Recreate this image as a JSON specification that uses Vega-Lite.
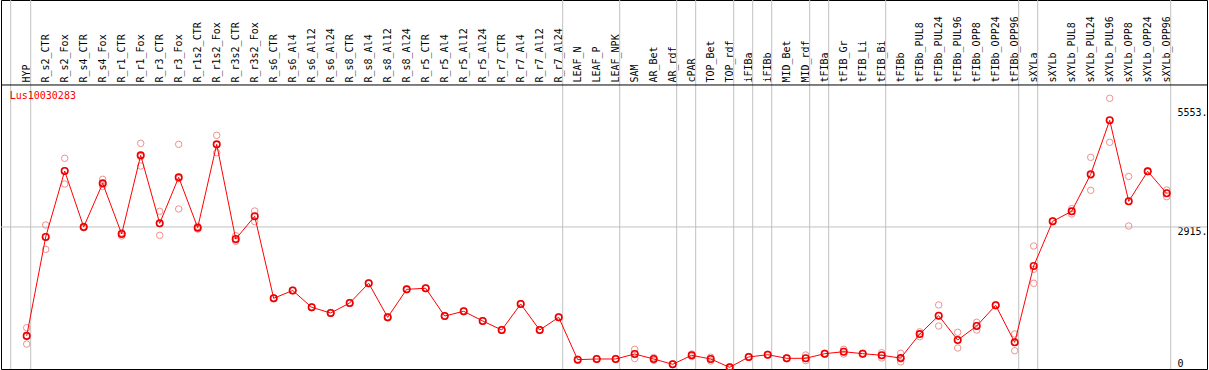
{
  "$schema": "https://vega.github.io/schema/vega-lite/v6.json",
  "width": 1206,
  "height": 369,
  "padding": {"left": 1, "top": 0, "right": 2, "bottom": 1},
  "autosize": {"type": "none"},
  "background": "white",
  "config": {
    "view": {"stroke": "black", "strokeWidth": 1},
    "font": "DejaVu Sans Mono",
    "axis": {"labelFont": "DejaVu Sans Mono", "labelFontSize": 10, "labelColor": "black", "ticks": false, "domain": false, "grid": false}
  },
  "datasets": {
    "expr": [
      {"sample": "HYP", "mean": 510, "r1": 690, "r2": 510, "r3": 330},
      {"sample": "R_s2_CTR", "mean": 2693, "r1": 2958, "r2": 2700, "r3": 2421},
      {"sample": "R_s2_Fox", "mean": 4150, "r1": 4430, "r2": 4157, "r3": 3863},
      {"sample": "R_s4_CTR", "mean": 2914, "r1": 2930, "r2": 2914, "r3": 2898},
      {"sample": "R_s4_Fox", "mean": 3878, "r1": 3967, "r2": 3856, "r3": 3810},
      {"sample": "R_r1_CTR", "mean": 2759, "r1": 2790, "r2": 2770, "r3": 2715},
      {"sample": "R_r1_Fox", "mean": 4496, "r1": 4761, "r2": 4466, "r3": 4260},
      {"sample": "R_r3_CTR", "mean": 2995, "r1": 3260, "r2": 2995, "r3": 2730},
      {"sample": "R_r3_Fox", "mean": 4010, "r1": 4739, "r2": 3980, "r3": 3311},
      {"sample": "R_r1s2_CTR", "mean": 2899, "r1": 2930, "r2": 2899, "r3": 2868},
      {"sample": "R_r1s2_Fox", "mean": 4739, "r1": 4938, "r2": 4725, "r3": 4554},
      {"sample": "R_r3s2_CTR", "mean": 2649, "r1": 2722, "r2": 2627, "r3": 2598},
      {"sample": "R_r3s2_Fox", "mean": 3150, "r1": 3267, "r2": 3150, "r3": 3031},
      {"sample": "R_s6_CTR", "mean": 1340, "r1": 1350, "r2": 1340, "r3": 1330},
      {"sample": "R_s6_Al4", "mean": 1512, "r1": 1520, "r2": 1512, "r3": 1504},
      {"sample": "R_s6_Al12", "mean": 1141, "r1": 1150, "r2": 1141, "r3": 1132},
      {"sample": "R_s6_Al24", "mean": 1015, "r1": 1025, "r2": 1015, "r3": 1005},
      {"sample": "R_s8_CTR", "mean": 1236, "r1": 1245, "r2": 1236, "r3": 1227},
      {"sample": "R_s8_Al4", "mean": 1671, "r1": 1680, "r2": 1671, "r3": 1662},
      {"sample": "R_s8_Al12", "mean": 920, "r1": 930, "r2": 920, "r3": 910},
      {"sample": "R_s8_Al24", "mean": 1538, "r1": 1546, "r2": 1538, "r3": 1530},
      {"sample": "R_r5_CTR", "mean": 1561, "r1": 1570, "r2": 1561, "r3": 1552},
      {"sample": "R_r5_Al4", "mean": 949, "r1": 958, "r2": 949, "r3": 940},
      {"sample": "R_r5_Al12", "mean": 1053, "r1": 1062, "r2": 1053, "r3": 1044},
      {"sample": "R_r5_Al24", "mean": 839, "r1": 848, "r2": 839, "r3": 830},
      {"sample": "R_r7_CTR", "mean": 640, "r1": 650, "r2": 640, "r3": 630},
      {"sample": "R_r7_Al4", "mean": 1214, "r1": 1223, "r2": 1214, "r3": 1205},
      {"sample": "R_r7_Al12", "mean": 640, "r1": 650, "r2": 640, "r3": 630},
      {"sample": "R_r7_Al24", "mean": 920, "r1": 930, "r2": 920, "r3": 910},
      {"sample": "LEAF_N", "mean": -15, "r1": -5, "r2": -15, "r3": -25},
      {"sample": "LEAF_P", "mean": 0, "r1": 10, "r2": 0, "r3": -10},
      {"sample": "LEAF_NPK", "mean": 0, "r1": 10, "r2": 0, "r3": -10},
      {"sample": "SAM", "mean": 110, "r1": 214, "r2": 110, "r3": 10},
      {"sample": "AR_Bet", "mean": 0, "r1": 30, "r2": 0, "r3": -30},
      {"sample": "AR_rdf", "mean": -117, "r1": -107, "r2": -117, "r3": -127},
      {"sample": "cPAR", "mean": 82, "r1": 110, "r2": 82, "r3": 55},
      {"sample": "TOP_Bet", "mean": 0, "r1": 40, "r2": 0, "r3": -44},
      {"sample": "TOP_rdf", "mean": -184, "r1": -174, "r2": -184, "r3": -194},
      {"sample": "iFIBa", "mean": 44, "r1": 54, "r2": 44, "r3": 34},
      {"sample": "iFIBb", "mean": 95, "r1": 105, "r2": 95, "r3": 85},
      {"sample": "MID_Bet", "mean": 15, "r1": 25, "r2": 15, "r3": 5},
      {"sample": "MID_rdf", "mean": 15, "r1": 88, "r2": 15, "r3": -37},
      {"sample": "tFIBa", "mean": 117, "r1": 127, "r2": 117, "r3": 107},
      {"sample": "tFIB_Gr", "mean": 161, "r1": 214, "r2": 161, "r3": 110},
      {"sample": "tFIB_Li", "mean": 117, "r1": 127, "r2": 117, "r3": 107},
      {"sample": "tFIB_Bi", "mean": 82, "r1": 139, "r2": 82, "r3": 22},
      {"sample": "tFIBb", "mean": 20, "r1": 126, "r2": 0, "r3": -66},
      {"sample": "tFIBb_PUL8", "mean": 550, "r1": 600, "r2": 550, "r3": 492},
      {"sample": "tFIBb_PUL24", "mean": 956, "r1": 1192, "r2": 950, "r3": 728},
      {"sample": "tFIBb_PUL96", "mean": 419, "r1": 589, "r2": 425, "r3": 243},
      {"sample": "tFIBb_OPP8", "mean": 728, "r1": 810, "r2": 734, "r3": 640},
      {"sample": "tFIBb_OPP24", "mean": 1185, "r1": 1195, "r2": 1185, "r3": 1175},
      {"sample": "tFIBb_OPP96", "mean": 368, "r1": 552, "r2": 370, "r3": 183},
      {"sample": "sXYLa", "mean": 2053, "r1": 2494, "r2": 1980, "r3": 1671},
      {"sample": "sXYLb", "mean": 3040, "r1": 3050, "r2": 3040, "r3": 3030},
      {"sample": "sXYLb_PUL8", "mean": 3260, "r1": 3318, "r2": 3260, "r3": 3200},
      {"sample": "sXYLb_PUL24", "mean": 4077, "r1": 4452, "r2": 4055, "r3": 3724},
      {"sample": "sXYLb_PUL96", "mean": 5269, "r1": 5755, "r2": 5268, "r3": 4784},
      {"sample": "sXYLb_OPP8", "mean": 3481, "r1": 4029, "r2": 3478, "r3": 2936},
      {"sample": "sXYLb_OPP24", "mean": 4143, "r1": 4153, "r2": 4143, "r3": 4133},
      {"sample": "sXYLb_OPP96", "mean": 3658, "r1": 3731, "r2": 3660, "r3": 3583}
    ],
    "bounds": [
      {"sample": "HYP"}, {"sample": "R_r7_Al24"}, {"sample": "LEAF_NPK"}, {"sample": "AR_rdf"},
      {"sample": "cPAR"}, {"sample": "TOP_rdf"}, {"sample": "iFIBa"}, {"sample": "iFIBb"},
      {"sample": "MID_rdf"}, {"sample": "tFIBa"}, {"sample": "tFIB_Bi"}, {"sample": "tFIBb_OPP96"},
      {"sample": "sXYLa"}, {"sample": "sXYLb_OPP96"}
    ],
    "one": [{"label": "Lus10030283"}]
  },
  "layer": [
    {
      "data": {"name": "bounds"},
      "mark": {"type": "rule", "color": "#c0c0c0", "strokeWidth": 1, "xOffset": 4},
      "encoding": {
        "x": {"field": "sample", "type": "nominal", "title": null,
          "scale": {"type": "point", "domain": ["HYP","R_s2_CTR","R_s2_Fox","R_s4_CTR","R_s4_Fox","R_r1_CTR","R_r1_Fox","R_r3_CTR","R_r3_Fox","R_r1s2_CTR","R_r1s2_Fox","R_r3s2_CTR","R_r3s2_Fox","R_s6_CTR","R_s6_Al4","R_s6_Al12","R_s6_Al24","R_s8_CTR","R_s8_Al4","R_s8_Al12","R_s8_Al24","R_r5_CTR","R_r5_Al4","R_r5_Al12","R_r5_Al24","R_r7_CTR","R_r7_Al4","R_r7_Al12","R_r7_Al24","LEAF_N","LEAF_P","LEAF_NPK","SAM","AR_Bet","AR_rdf","cPAR","TOP_Bet","TOP_rdf","iFIBa","iFIBb","MID_Bet","MID_rdf","tFIBa","tFIB_Gr","tFIB_Li","tFIB_Bi","tFIBb","tFIBb_PUL8","tFIBb_PUL24","tFIBb_PUL96","tFIBb_OPP8","tFIBb_OPP24","tFIBb_OPP96","sXYLa","sXYLb","sXYLb_PUL8","sXYLb_PUL24","sXYLb_PUL96","sXYLb_OPP8","sXYLb_OPP24","sXYLb_OPP96"], "range": [25.7, 1165.7], "padding": 0},
          "axis": {"orient": "top", "offset": -85, "labelAngle": -90, "labelAlign": "left", "labelBaseline": "middle", "labelPadding": 3, "labelOverlap": false, "labelBound": false, "labelFlush": false}}
      }
    },
    {
      "data": {"name": "one"},
      "mark": {"type": "rule", "color": "#c0c0c0", "strokeWidth": 1, "xOffset": -16},
      "encoding": {"x": {"datum": "HYP", "type": "nominal"}}
    },
    {
      "data": {"name": "one"},
      "mark": {"type": "rule", "color": "#c0c0c0", "strokeWidth": 1},
      "encoding": {"y": {"datum": 2915, "type": "quantitative", "title": null,
        "scale": {"domain": [-221, 7925], "nice": false, "zero": false},
        "axis": {"orient": "right", "values": [0, 2915, 5553], "labelExpr": "datum.value == 0 ? '0' : datum.value + '.'", "labelAlign": "left", "labelBaseline": "top", "labelPadding": -30, "labelBound": false, "labelFlush": false, "labelOverlap": false}}}
    },
    {
      "data": {"name": "one"},
      "mark": {"type": "rule", "color": "black", "strokeWidth": 1},
      "encoding": {"y": {"datum": 6049, "type": "quantitative"}}
    },
    {
      "data": {"name": "expr"},
      "transform": [{"fold": ["r1", "r2", "r3"], "as": ["rep", "value"]}],
      "mark": {"type": "point", "shape": "circle", "filled": false, "color": "#f09090", "strokeWidth": 1, "size": 42, "opacity": 1},
      "encoding": {
        "x": {"field": "sample", "type": "nominal"},
        "y": {"field": "value", "type": "quantitative"}
      }
    },
    {
      "data": {"name": "expr"},
      "mark": {"type": "line", "color": "#ff0000", "strokeWidth": 1},
      "encoding": {
        "x": {"field": "sample", "type": "nominal"},
        "y": {"field": "mean", "type": "quantitative"},
        "order": {"value": null}
      }
    },
    {
      "data": {"name": "expr"},
      "mark": {"type": "point", "shape": "circle", "filled": false, "color": "#ee0000", "strokeWidth": 1.6, "size": 42, "opacity": 1},
      "encoding": {
        "x": {"field": "sample", "type": "nominal"},
        "y": {"field": "mean", "type": "quantitative"}
      }
    },
    {
      "data": {"name": "one"},
      "mark": {"type": "text", "align": "left", "baseline": "top", "dx": -17, "color": "#ff0000", "font": "DejaVu Sans Mono", "fontSize": 10},
      "encoding": {
        "x": {"datum": "HYP", "type": "nominal"},
        "y": {"datum": 5910, "type": "quantitative"},
        "text": {"field": "label"}
      }
    }
  ]
}
